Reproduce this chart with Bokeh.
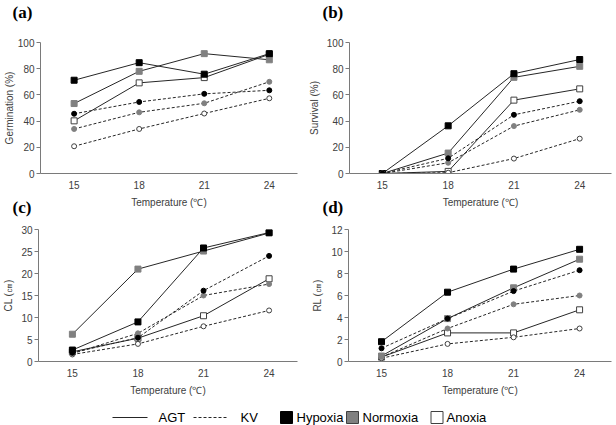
from bokeh.plotting import figure
from bokeh.layouts import column, row
from bokeh.models import Range1d, FixedTicker
from bokeh.embed import file_html
from bokeh.resources import INLINE
from bokeh.core.properties import value

temperature = [15, 18, 21, 24]

# Germination (%)
germ_agt_hypoxia = [71.2, 84.6, 75.8, 91.5]
germ_agt_normoxia = [53.4, 78.0, 91.5, 86.8]
germ_agt_anoxia = [40.2, 69.2, 73.2, 91.0]
germ_kv_hypoxia = [45.6, 54.6, 60.8, 63.5]
germ_kv_normoxia = [34.0, 46.7, 53.6, 70.0]
germ_kv_anoxia = [20.8, 34.0, 45.8, 57.4]

# Survival (%)
surv_agt_hypoxia = [0, 36.4, 76.2, 87.0]
surv_agt_normoxia = [0, 15.6, 73.4, 81.8]
surv_agt_anoxia = [0, 1.6, 56.0, 64.6]
surv_kv_hypoxia = [0, 11.6, 44.8, 55.2]
surv_kv_normoxia = [0, 8.2, 36.2, 48.6]
surv_kv_anoxia = [0, 0.6, 11.4, 26.6]

# CL (cm)
cl_agt_hypoxia = [2.6, 9.0, 25.8, 29.3]
cl_agt_normoxia = [6.2, 21.0, 25.1, 29.2]
cl_agt_anoxia = [2.2, 5.3, 10.4, 18.8]
cl_kv_hypoxia = [2.0, 5.4, 16.1, 24.0]
cl_kv_normoxia = [1.8, 6.4, 15.0, 17.6]
cl_kv_anoxia = [1.6, 4.0, 8.0, 11.6]

# RL (cm)
rl_agt_hypoxia = [1.8, 6.3, 8.4, 10.2]
rl_agt_normoxia = [0.5, 3.9, 6.7, 9.3]
rl_agt_anoxia = [0.4, 2.6, 2.6, 4.7]
rl_kv_hypoxia = [1.2, 3.9, 6.4, 8.3]
rl_kv_normoxia = [0.4, 3.0, 5.2, 6.0]
rl_kv_anoxia = [0.3, 1.6, 2.2, 3.0]

cultivars = ["AGT", "KV"]
treatments = ["Hypoxia", "Normoxia", "Anoxia"]
panel_tags = ["(a)", "(b)", "(c)", "(d)"]
x_title = "Temperature (℃)"

LINE = "#262626"
FILL = {"Hypoxia": "#000000", "Normoxia": "#808080", "Anoxia": "#ffffff"}
EDGE = {"Hypoxia": "#000000", "Normoxia": "#808080", "Anoxia": "#404040"}
SANS = "Liberation Sans"
LEFT_X = (13.45, 25.3)
RIGHT_X = (13.5, 25.45)
PAGE_W, PAGE_H = 616, 425


def transparent(p):
    p.grid.visible = False
    p.outline_line_color = None
    p.border_fill_alpha = 0
    p.background_fill_alpha = 0


def panel(ylabel, ymax, ystep, agt, kv, xr, width, height,
          left, right, top, bottom, label_standoff):
    p = figure(width=width, height=height,
               x_range=Range1d(*xr), y_range=Range1d(0, ymax),
               output_backend="svg", toolbar_location=None,
               min_border_left=left, min_border_right=right,
               min_border_top=top, min_border_bottom=bottom)
    transparent(p)

    # solid lines with squares for AGT, dashed lines with dots for KV
    for name in ["Anoxia", "Normoxia", "Hypoxia"]:
        vals = agt[name]
        p.line(temperature, vals, line_color=LINE, line_width=1)
        p.scatter(temperature, vals, marker="square", size=6,
                  fill_color=FILL[name], line_color=EDGE[name], line_width=1)
    for name in ["Anoxia", "Normoxia", "Hypoxia"]:
        vals = kv[name]
        p.line(temperature, vals, line_color=LINE, line_width=1, line_dash="3 2")
        p.scatter(temperature, vals, marker="circle", size=5,
                  fill_color=FILL[name], line_color=EDGE[name], line_width=1)

    for ax in p.axis:
        ax.axis_line_color = "#7a7a7a"
        ax.axis_line_width = 1
        ax.minor_tick_line_color = None
        ax.major_label_text_font = SANS
        ax.major_label_text_font_size = "10px"
        ax.major_label_text_color = "#404040"
        ax.axis_label_text_font = SANS
        ax.axis_label_text_font_size = "10px"
        ax.axis_label_text_font_style = "normal"
        ax.axis_label_text_color = "#404040"

    xa = p.xaxis[0]
    xa.ticker = FixedTicker(ticks=temperature)
    xa.major_tick_line_color = None
    xa.major_label_standoff = 1
    xa.axis_label = x_title
    xa.axis_label_standoff = 5

    ya = p.yaxis[0]
    ya.ticker = FixedTicker(ticks=list(range(0, ymax + 1, ystep)))
    ya.major_tick_line_color = "#7a7a7a"
    ya.major_tick_out = 4
    ya.major_tick_in = 0
    ya.major_label_standoff = 2
    ya.axis_label = ylabel
    ya.axis_label_standoff = label_standoff
    return p


def series(h, n, a):
    return {"Hypoxia": h, "Normoxia": n, "Anoxia": a}


# top row: frames span y = 42..173; bottom row overlaps it and spans y = 229..361
pa = panel("Germination (%)", 100, 20,
           series(germ_agt_hypoxia, germ_agt_normoxia, germ_agt_anoxia),
           series(germ_kv_hypoxia, germ_kv_normoxia, germ_kv_anoxia),
           LEFT_X, 305, 218, 36, 8, 42, 45, 0)
pb = panel("Survival (%)", 100, 20,
           series(surv_agt_hypoxia, surv_agt_normoxia, surv_agt_anoxia),
           series(surv_kv_hypoxia, surv_kv_normoxia, surv_kv_anoxia),
           RIGHT_X, 311, 218, 44, 5, 42, 45, 4)
pc = panel("CL (㎝)", 30, 5,
           series(cl_agt_hypoxia, cl_agt_normoxia, cl_agt_anoxia),
           series(cl_kv_hypoxia, cl_kv_normoxia, cl_kv_anoxia),
           LEFT_X, 305, 216, 36, 8, 39, 45, 4)
pd_ = panel("RL (㎝)", 12, 2,
            series(rl_agt_hypoxia, rl_agt_normoxia, rl_agt_anoxia),
            series(rl_kv_hypoxia, rl_kv_normoxia, rl_kv_anoxia),
            RIGHT_X, 311, 216, 43, 5, 39, 45, 5)

# legend strip: line styles for cultivars, fill colours for treatments
lg = figure(width=PAGE_W, height=19, x_range=Range1d(0, PAGE_W), y_range=Range1d(0, 19),
            output_backend="svg", toolbar_location=None, min_border=0,
            x_axis_type=None, y_axis_type=None)
transparent(lg)

lg.line([112, 147], [8, 8], line_color=LINE, line_width=1.2)
lg.line([193, 228], [8, 8], line_color=LINE, line_width=1.2, line_dash="3 2")
lg.text(x=[158, 240], y=[8, 8], text=cultivars, text_font=value(SANS),
        text_font_size="13px", text_baseline="middle", text_align="left",
        text_color="#000000")

sq_x = [286, 352, 436.5]
lg.rect(x=sq_x, y=[8, 8, 8], width=12, height=12,
        fill_color=[FILL[t] for t in treatments],
        line_color=["#000000", "#404040", "#404040"], line_width=1)
lg.text(x=[296, 362, 446], y=[8, 8, 8], text=treatments, text_font=value(SANS),
        text_font_size="13px", text_baseline="middle", text_align="left",
        text_color="#000000")

# page-sized transparent layer carrying the panel letters (y measured from the top)
tags = figure(width=PAGE_W, height=PAGE_H, x_range=Range1d(0, PAGE_W),
              y_range=Range1d(PAGE_H, 0), output_backend="svg",
              toolbar_location=None, min_border=0,
              x_axis_type=None, y_axis_type=None, margin=(-PAGE_H, 0, 0, 0))
transparent(tags)
tags.text(x=[12, 322, 12, 322], y=[12, 12, 207, 207], text=panel_tags,
          text_font=value("Liberation Serif"), text_font_size="17px",
          text_font_style="bold", text_color="#000000",
          text_baseline="middle", text_align="left")

top_row = row(pa, pb)
bottom_row = row(pc, pd_, margin=(-28, 0, 0, 0))
layout = column(top_row, bottom_row, lg, tags)

open("out.html", "w").write(file_html(layout, INLINE))
